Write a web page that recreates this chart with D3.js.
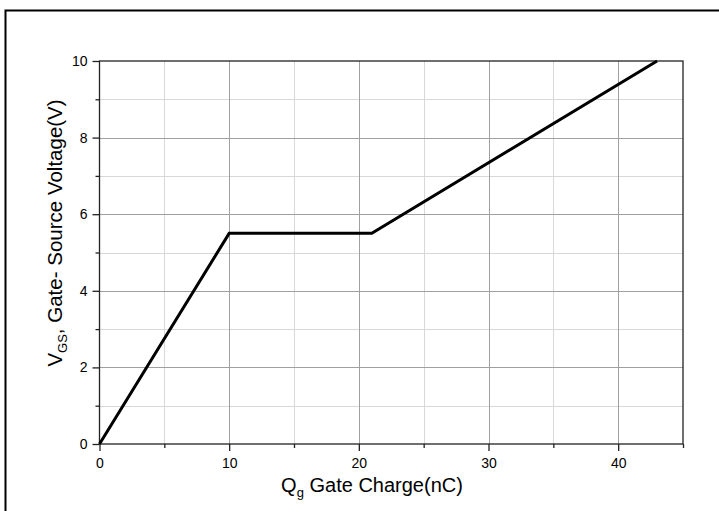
<!DOCTYPE html>
<html><head><meta charset="utf-8">
<script src="https://cdn.jsdelivr.net/npm/d3@7"></script>
<style>body{margin:0;background:#fff}svg text{font-family:Arial,"Liberation Sans",sans-serif}</style>
</head><body>
<svg id="c" width="719" height="511"></svg>
<script>
const qg = [0, 10, 21, 43];
const vgs = [0, 5.5, 5.5, 10];
const xMajor = [0, 10, 20, 30, 40];
const xMinor = [5, 15, 25, 35, 45];
const yMajor = [0, 2, 4, 6, 8, 10];
const yMinor = [1, 3, 5, 7, 9];

const svg = d3.select("#c");
const L = 99.5, R = 683, T = 61, B = 444;
const x = d3.scaleLinear().domain([0, 45]).range([L, R]);
const y = d3.scaleLinear().domain([0, 10]).range([B, T]);

// outer frame (left & top)
svg.append("path").attr("d", `M5.5,511 V10.5 H719`).attr("fill","none").attr("stroke","#000").attr("stroke-width",2);

// grid
const g = svg.append("g");
xMinor.filter(v=>v<45).forEach(v=>g.append("line").attr("x1",Math.round(x(v))+0.5).attr("x2",Math.round(x(v))+0.5).attr("y1",T).attr("y2",B).attr("stroke","#d8d8d8"));
yMinor.forEach(v=>g.append("line").attr("y1",Math.round(y(v))+0.5).attr("y2",Math.round(y(v))+0.5).attr("x1",L).attr("x2",R).attr("stroke","#d8d8d8"));
xMajor.filter(v=>v>0).forEach(v=>g.append("line").attr("x1",Math.round(x(v))+0.5).attr("x2",Math.round(x(v))+0.5).attr("y1",T).attr("y2",B).attr("stroke","#a0a0a0"));
yMajor.filter(v=>v>0 && v<10).forEach(v=>g.append("line").attr("y1",Math.round(y(v))+0.5).attr("y2",Math.round(y(v))+0.5).attr("x1",L).attr("x2",R).attr("stroke","#a0a0a0"));

// plot border
svg.append("rect").attr("x",L).attr("y",T).attr("width",R-L).attr("height",B-T).attr("fill","none").attr("stroke","#222").attr("stroke-width",1.3);

// axes
const xAx = svg.append("g").attr("transform",`translate(0,${B})`)
  .call(d3.axisBottom(x).tickValues(xMajor).tickSize(7).tickPadding(7).tickFormat(d3.format("d")));
const xAxm = svg.append("g").attr("transform",`translate(0,${B})`)
  .call(d3.axisBottom(x).tickValues(xMinor).tickSize(4).tickFormat(""));
const yAx = svg.append("g").attr("transform",`translate(${L},0)`)
  .call(d3.axisLeft(y).tickValues(yMajor).tickSize(7).tickPadding(5).tickFormat(d3.format("d")));
const yAxm = svg.append("g").attr("transform",`translate(${L},0)`)
  .call(d3.axisLeft(y).tickValues(yMinor).tickSize(4).tickFormat(""));
[xAx,xAxm,yAx,yAxm].forEach(a=>{a.attr("font-size",null);a.select(".domain").remove();a.selectAll("line").attr("stroke","#222").attr("stroke-width",1.3);a.selectAll("text").style("font-size","14px").attr("fill","#000");});

// line
svg.append("path").datum(qg.map((q,i)=>[q,vgs[i]]))
  .attr("d", d3.line().x(d=>x(d[0])).y(d=>y(d[1])))
  .attr("fill","none").attr("stroke","#000").attr("stroke-width",3).attr("stroke-linejoin","miter");

// axis titles
const xt = svg.append("text").attr("x",372).attr("y",492).attr("text-anchor","middle").style("font-size","20px").attr("fill","#000");
xt.append("tspan").text("Q");
xt.append("tspan").style("font-size","13px").attr("dy",5).text("g");
xt.append("tspan").attr("dy",-5).text(" Gate Charge(nC)");

const yt = svg.append("text").attr("transform",`translate(62,233) rotate(-90)`).attr("text-anchor","middle").style("font-size","20.5px").attr("fill","#000");
yt.append("tspan").text("V");
yt.append("tspan").style("font-size","13px").attr("dy",5).text("GS");
yt.append("tspan").attr("dy",-5).text(", Gate- Source Voltage(V)");
</script>
</body></html>
